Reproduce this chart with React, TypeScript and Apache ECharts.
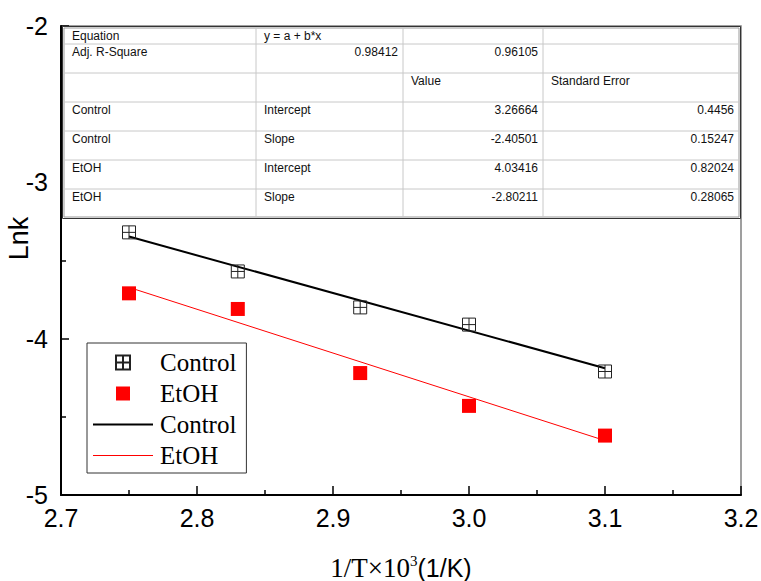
import React, { useEffect, useRef } from 'react';
import * as echarts from 'echarts';

// ---- data ----
const xValues = [2.75, 2.83, 2.92, 3.0, 3.1];
const controlLnk = [-3.32, -3.57, -3.8, -3.91, -4.21];
const etohLnk = [-3.71, -3.81, -4.22, -4.43, -4.62];
const fitX = [2.75, 3.1];
const controlFit = [-3.347, -4.189];
const etohFit = [-3.672, -4.652];

const tableRows: string[][] = [
  ['Equation', 'y = a + b*x', '', ''],
  ['Adj. R-Square', '0.98412', '0.96105', ''],
  ['', '', 'Value', 'Standard Error'],
  ['Control', 'Intercept', '3.26664', '0.4456'],
  ['Control', 'Slope', '-2.40501', '0.15247'],
  ['EtOH', 'Intercept', '4.03416', '0.82024'],
  ['EtOH', 'Slope', '-2.80211', '0.28065'],
];

// ---- layout of the embedded table ----
const colX = [64, 256, 403, 543, 739];
const rowY = [28, 44, 73, 102, 131, 160, 189, 217];

function buildTable(): any[] {
  const els: any[] = [];
  const x0 = colX[0];
  const x1 = colX[colX.length - 1];
  const y0 = rowY[0];
  const y1 = rowY[rowY.length - 1];
  els.push({
    type: 'rect',
    shape: { x: x0 - 1.5, y: y0 - 1.5, width: x1 - x0 + 3, height: y1 - y0 + 3 },
    style: { fill: '#fff', stroke: '#333', lineWidth: 1 },
    z: 10,
  });
  els.push({
    type: 'rect',
    shape: { x: x0, y: y0, width: x1 - x0, height: y1 - y0 },
    style: { fill: 'none', stroke: '#999', lineWidth: 1 },
    z: 11,
  });
  for (let i = 1; i < rowY.length - 1; i++) {
    els.push({
      type: 'line',
      shape: { x1: x0, y1: rowY[i], x2: x1, y2: rowY[i] },
      style: { stroke: '#c8c8c8', lineWidth: 1 },
      z: 11,
    });
  }
  for (let j = 1; j < colX.length - 1; j++) {
    els.push({
      type: 'line',
      shape: { x1: colX[j], y1: y0, x2: colX[j], y2: y1 },
      style: { stroke: '#c8c8c8', lineWidth: 1 },
      z: 11,
    });
  }
  tableRows.forEach((row, i) => {
    row.forEach((txt, j) => {
      if (!txt) return;
      const numeric = /^-?\d/.test(txt);
      const x = numeric ? colX[j + 1] - 5 : colX[j] + 8;
      els.push({
        type: 'text',
        z: 12,
        style: {
          x,
          y: rowY[i] + 2,
          text: txt,
          fill: '#111',
          font: '12px "Liberation Sans", Arial, sans-serif',
          align: numeric ? 'right' : 'left',
          verticalAlign: 'top',
          textAlign: numeric ? 'right' : 'left',
          textVerticalAlign: 'top',
        },
      });
    });
  });
  return els;
}

const crossSymbol = 'path://M0,0L12,0L12,12L0,12Z M6,0L6,12 M0,6L12,6';
const squareIcon = 'path://M0,0L14,0L14,14L0,14Z';
const thickLineIcon = 'path://M0,0L60,0L60,2L0,2Z';
const thinLineIcon = 'path://M0,0L60,0L60,1L0,1Z';

export default function App() {
  const ref = useRef<HTMLDivElement>(null);
  useEffect(() => {
    const chart = echarts.init(ref.current!, null, { renderer: 'svg' });
    const option: any = {
      animation: false,
      backgroundColor: '#fff',
      grid: {
        left: 61,
        right: 20,
        top: 26,
        bottom: 86,
        containLabel: false,
        outerBoundsMode: 'none',
        show: true,
        borderColor: '#808080',
        borderWidth: 1.5,
      },
      xAxis: {
        type: 'value',
        min: 2.7,
        max: 3.2,
        interval: 0.1,
        splitLine: { show: false },
        axisLine: { onZero: false, lineStyle: { color: '#000', width: 2 } },
        axisTick: { inside: true, length: 9, lineStyle: { color: '#000', width: 1.5 } },
        minorTick: { show: true, splitNumber: 2, length: 5, lineStyle: { color: '#000', width: 1.5 } },
        axisLabel: {
          margin: 10,
          fontFamily: 'Liberation Sans',
          fontSize: 25,
          color: '#000',
          formatter: (v: number) => v.toFixed(1),
        },
        name: '{a|1/T×10}{s|3}{b|(1/K)}',
        nameLocation: 'middle',
        nameGap: 58,
        nameMoveOverlap: false,
        nameTextStyle: {
          rich: {
            a: { fontFamily: 'Liberation Serif', fontSize: 27, color: '#000' },
            s: { fontFamily: 'Liberation Serif', fontSize: 15, color: '#000', padding: [0, 0, 14, 0] },
            b: { fontFamily: 'Liberation Sans', fontSize: 25, color: '#000' },
          },
        },
      },
      yAxis: {
        type: 'value',
        min: -5,
        max: -2,
        interval: 1,
        splitLine: { show: false },
        axisLine: { onZero: false, lineStyle: { color: '#000', width: 2 } },
        axisTick: { inside: true, length: 8, lineStyle: { color: '#000', width: 1.5 } },
        minorTick: { show: true, splitNumber: 2, length: 5, lineStyle: { color: '#000', width: 1.5 } },
        axisLabel: {
          margin: 13,
          fontFamily: 'Liberation Sans',
          fontSize: 25,
          color: '#000',
        },
        name: 'Lnk',
        nameLocation: 'middle',
        nameGap: 29,
        nameMoveOverlap: false,
        nameTextStyle: {
          fontFamily: 'Liberation Sans',
          fontSize: 27,
          color: '#000',
          padding: [0, 0, 0, 44],
        },
      },
      legend: {
        orient: 'vertical',
        left: 87,
        top: 343,
        padding: [7, 10, 5, 6],
        itemWidth: 60,
        itemHeight: 14,
        itemGap: 6,
        borderColor: '#333',
        borderWidth: 1,
        backgroundColor: '#fff',
        selectedMode: false,
        data: [
          { name: 'Control' },
          { name: 'EtOH', icon: squareIcon },
          { name: 'Control fit', icon: thickLineIcon },
          { name: 'EtOH fit', icon: thinLineIcon },
        ],
        formatter: (name: string) => name.replace(' fit', ''),
        textStyle: {
          fontFamily: 'Liberation Serif',
          fontSize: 25,
          lineHeight: 25,
          color: '#000',
          padding: [0, 0, 0, 2],
        },
      },
      series: [
        {
          name: 'Control fit',
          type: 'line',
          data: fitX.map((x, i) => [x, controlFit[i]]),
          symbol: 'none',
          lineStyle: { color: '#000', width: 2 },
          itemStyle: { color: '#000', opacity: 1 },
          z: 2,
        },
        {
          name: 'EtOH fit',
          type: 'line',
          data: fitX.map((x, i) => [x, etohFit[i]]),
          symbol: 'none',
          lineStyle: { color: '#ff0000', width: 1 },
          itemStyle: { color: '#ff0000', opacity: 1 },
          z: 2,
        },
        {
          name: 'Control',
          type: 'scatter',
          data: xValues.map((x, i) => [x, controlLnk[i]]),
          symbol: crossSymbol,
          symbolSize: 13,
          itemStyle: { color: 'rgba(255,255,255,0)', borderColor: '#222', borderWidth: 1, opacity: 1 },
          z: 3,
        },
        {
          name: 'EtOH',
          type: 'scatter',
          data: xValues.map((x, i) => [x, etohLnk[i]]),
          symbol: 'rect',
          symbolSize: 14,
          itemStyle: { color: '#ff0000', opacity: 1 },
          z: 3,
        },
      ],
      graphic: buildTable(),
    };
    chart.setOption(option);
    return () => chart.dispose();
  }, []);
  return (
    <div
      ref={ref}
      style={{ position: 'fixed', left: 0, top: 0, width: 761, height: 581 }}
    />
  );
}
